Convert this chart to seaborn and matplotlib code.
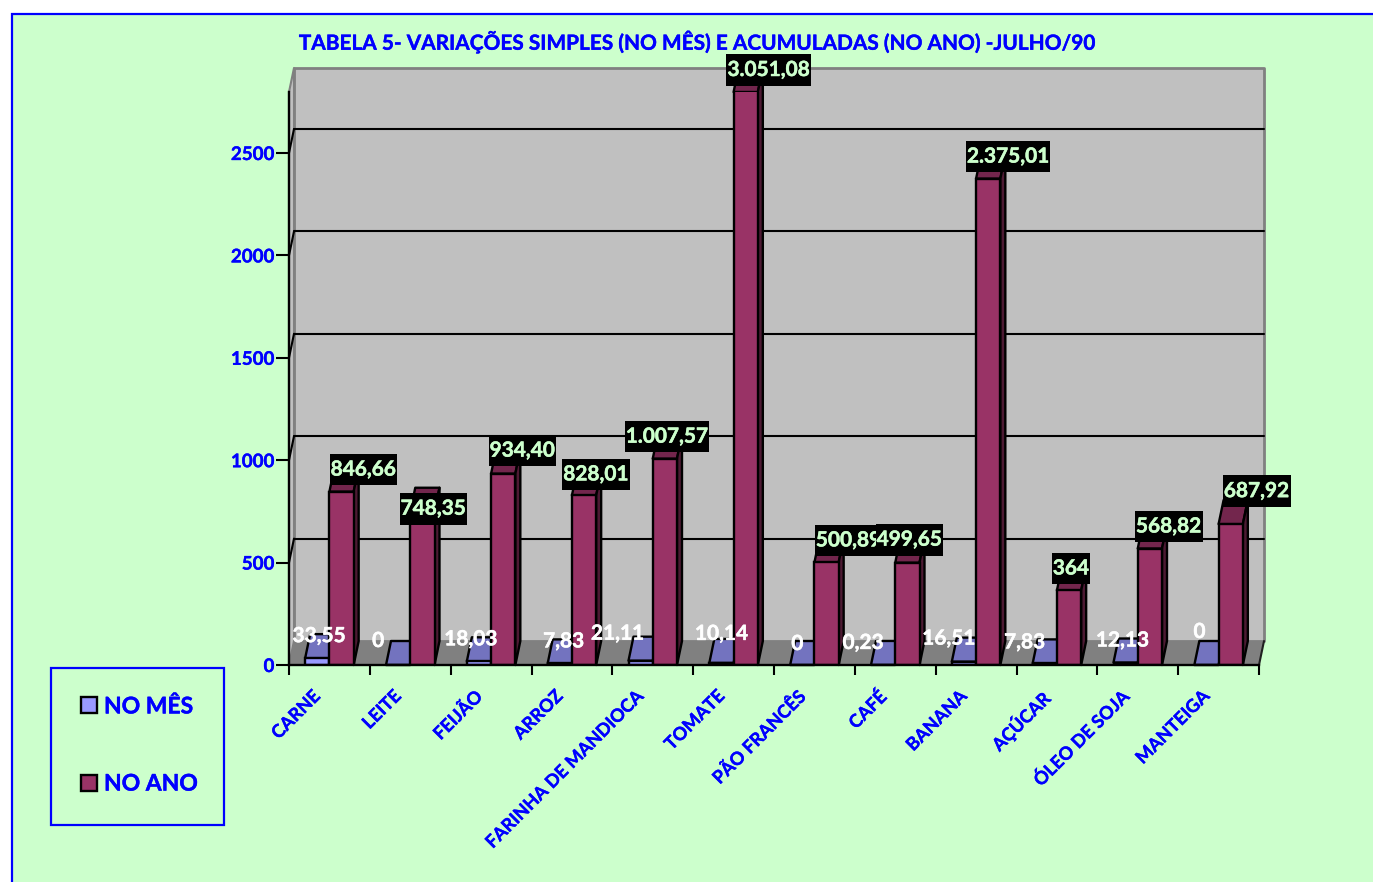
"""
Tabela 5 - faked 3D clustered bars with seaborn
"""
import pandas as pd
import matplotlib
matplotlib.use("Agg")
import matplotlib.pyplot as plt
import matplotlib.patheffects as pe
from matplotlib.patches import Polygon, Rectangle
from matplotlib.path import Path
from matplotlib.transforms import ScaledTranslation
import seaborn as sns

categories = ["CARNE", "LEITE", "FEIJÃO", "ARROZ", "FARINHA DE MANDIOCA", "TOMATE",
              "PÃO FRANCÊS", "CAFÉ", "BANANA", "AÇÚCAR", "ÓLEO DE SOJA", "MANTEIGA"]
no_mes = [33.55, 0, 18.03, 7.83, 21.11, 10.14, 0, 0.23, 16.51, 7.83, 12.13, 0]
no_ano = [846.66, 748.35, 934.40, 828.01, 1007.57, 3051.08,
          500.89, 499.65, 2375.01, 364, 568.82, 687.92]
y_ticks = [0, 500, 1000, 1500, 2000, 2500]

# label nudges in pixels from the top of each bar
mes_nudge = [(2, 22), (-20, 24), (-8, 22), (4, 22), (-23, 27), (0, 29),
             (-5, 21), (-20, 22), (-15, 23), (-20, 21), (-3, 22), (-7, 33)]
ano_nudge = [(22, 22), (11, 3), (19, 23), (12, 21), (2, 22), (23, 22),
             (22, 22), (2, 23), (20, 22), (2, 22), (19, 22), (26, 33)]

BLUE = "#0000FF"
GREEN = "#CCFFCC"
MES_FRONT, MES_TOP = "#9999FF", "#7373BF"
ANO_FRONT, ANO_TOP, ANO_SIDE = "#993366", "#73264D", "#4D1A33"
WIDTH, HEIGHT = 1373, 882
EDGE = 1.7


def br_label(v):
    if v == int(v):
        return str(int(v))
    return f"{v:,.2f}".replace(",", "#").replace(".", ",").replace("#", ".")


def heavy(color, w=0.35):
    # Lato bold is lighter than the original font
    return [pe.withStroke(linewidth=w, foreground=color)]


def tall_box(x0, y0, width, height, mutation_size):
    # black label box: tight at the sides, tall above and below the digits
    pad = 0.28 * mutation_size
    x, y, r, t = x0 - 1, y0 - pad, x0 + width + 1, y0 + height + pad
    return Path([(x, y), (r, y), (r, t), (x, t), (x, y)], closed=True)


df = pd.DataFrame({
    "categoria": categories * 2,
    "serie": ["NO MÊS"] * 12 + ["NO ANO"] * 12,
    "valor": no_mes + no_ano,
})

sns.set_theme(style="white")
plt.rcParams["font.family"] = ["Lato", "DejaVu Sans"]
plt.rcParams["font.weight"] = "bold"

fig = plt.figure(figsize=(WIDTH / 100, HEIGHT / 100), dpi=100, facecolor="white")

# green chart area with the blue border, runs off the right and bottom
fig.patches.append(Rectangle((12 / WIDTH, -0.1), 1.2, 1.1 - 14 / HEIGHT, transform=fig.transFigure,
                             facecolor=GREEN, edgecolor=BLUE, linewidth=1.6, figure=fig, zorder=-1))

ax = fig.add_axes([289 / WIDTH, 1 - 665 / HEIGHT, 970 / WIDTH, 573 / HEIGHT], zorder=2)
ax.patch.set_visible(False)

sns.barplot(data=df, x="categoria", y="valor", hue="serie", order=categories,
            hue_order=["NO MÊS", "NO ANO"], palette=[MES_FRONT, ANO_FRONT], saturation=1,
            width=0.6, gap=0, edgecolor="black", linewidth=EDGE, errorbar=None, ax=ax)

y_max = 573 / 0.2048
ax.set_xlim(-0.5, 11.5)
ax.set_ylim(0, y_max)

# depth of the fake 3D box, in data units
dx = 5 / (970 / 12)
dy = 24 / 0.2048
x0, x1 = -0.5, 11.5


def poly(points, face, edge="none", lw=0, z=1):
    ax.add_patch(Polygon(points, closed=True, facecolor=face, edgecolor=edge, linewidth=lw,
                         clip_on=False, zorder=z, joinstyle="round"))


# back wall, left wall, floor
poly([(x0 + dx, dy), (x1 + dx, dy), (x1 + dx, y_max + dy), (x0 + dx, y_max + dy)], "#C0C0C0", "#808080", 2, 0.5)
poly([(x0, 0), (x0 + dx, dy), (x0 + dx, y_max + dy), (x0, y_max)], "#C0C0C0", "#808080", 1.5, 0.6)
poly([(x0, 0), (x1, 0), (x1 + dx, dy), (x0 + dx, dy)], "#808080", z=0.7)
ax.plot([x1, x1 + dx], [0, dy], color="#202020", lw=1.5, clip_on=False, zorder=0.8)

for t in y_ticks[1:]:
    ax.plot([x0 + dx, x1 + dx], [t + dy, t + dy], color="black", lw=1.5, clip_on=False, zorder=0.65)
    ax.plot([x0, x0 + dx], [t, t + dy], color="black", lw=1.5, clip_on=False, zorder=0.65)

# depth faces taken from the bars seaborn drew
mes_bars, ano_bars = ax.containers[0], ax.containers[1]
for bar in mes_bars:
    bar.set_zorder(3)
    l, w, h = bar.get_x(), bar.get_width(), bar.get_height()
    poly([(l, h), (l + w, h), (l + w + dx, h + dy), (l + dx, h + dy)], MES_TOP, "black", EDGE, 2.5)
for bar in ano_bars:
    bar.set_zorder(5)
    l, w, h = bar.get_x(), bar.get_width(), min(bar.get_height(), y_max)
    poly([(l, h), (l + w, h), (l + w + dx, h + dy), (l + dx, h + dy)], ANO_TOP, "black", EDGE, 4)
    poly([(l + w, 0), (l + w + dx, dy), (l + w + dx, h + dy), (l + w, h)], ANO_SIDE, "black", EDGE, 4)

# data labels
for bar, (nx, ny) in zip(mes_bars, mes_nudge):
    h = bar.get_height()
    ax.annotate(br_label(h), (bar.get_x() + bar.get_width() / 2, h), xytext=(nx, ny),
                textcoords="offset pixels", ha="center", va="center", color="white",
                fontsize=15, annotation_clip=False, zorder=7, path_effects=heavy("white"))
for bar, (nx, ny) in zip(ano_bars, ano_nudge):
    h = bar.get_height()
    ax.annotate(br_label(h), (bar.get_x() + bar.get_width() / 2, min(h, y_max)), xytext=(nx, ny),
                textcoords="offset pixels", ha="center", va="center", color=GREEN,
                fontsize=15, annotation_clip=False, zorder=8, path_effects=heavy(GREEN),
                bbox=dict(boxstyle=tall_box, facecolor="black", edgecolor="none"))

# axes
sns.despine(ax=ax, top=True, right=True)
for s in ["left", "bottom"]:
    ax.spines[s].set_color("black")
    ax.spines[s].set_linewidth(EDGE)
    ax.spines[s].set_zorder(6)
ax.set_xlabel("")
ax.set_ylabel("")
ax.set_yticks(y_ticks)
ax.tick_params(axis="y", length=9.5, width=1.5, color="black", left=True, labelsize=13.5,
               labelcolor=BLUE, pad=1)
ax.set_xticks([i + 0.5 for i in range(-1, 12)], minor=True)
ax.tick_params(axis="x", which="minor", length=7.5, width=1.5, color="black", bottom=True)
ax.tick_params(axis="x", which="major", length=0, labelsize=13, labelcolor=BLUE, pad=11)
plt.setp(ax.get_xticklabels(), rotation=45, ha="right", rotation_mode="anchor")
shift = ScaledTranslation(-18 / 100, -7 / 100, fig.dpi_scale_trans)
for lab in ax.get_xticklabels():
    lab.set_transform(lab.get_transform() + shift)
    lab.set_path_effects(heavy(BLUE, 0.25))
for lab in ax.get_yticklabels():
    lab.set_path_effects(heavy(BLUE, 0.25))

# legend, box is drawn on its own so it can be sized like the original
fig.patches.append(Rectangle((51 / WIDTH, 1 - 825 / HEIGHT), 173 / WIDTH, 157 / HEIGHT, transform=fig.transFigure,
                             facecolor="none", edgecolor=BLUE, linewidth=1.6, figure=fig))
sns.move_legend(ax, "center", bbox_to_anchor=(139.5 / WIDTH, 1 - 745.5 / HEIGHT), bbox_transform=fig.transFigure,
                frameon=False, title=None, fontsize=16.5, labelcolor=BLUE, handlelength=0.7,
                handleheight=0.7, handletextpad=0.3, labelspacing=2.45)
for lab in ax.get_legend().get_texts():
    lab.set_path_effects(heavy(BLUE, 0.3))

fig.text(697 / WIDTH, 1 - 42 / HEIGHT, "TABELA 5- VARIAÇÕES SIMPLES (NO MÊS) E ACUMULADAS (NO ANO) -JULHO/90",
         color=BLUE, fontsize=15, ha="center", va="center", path_effects=heavy(BLUE, 0.25))

fig.savefig("out.png", dpi=100, facecolor=fig.get_facecolor())
